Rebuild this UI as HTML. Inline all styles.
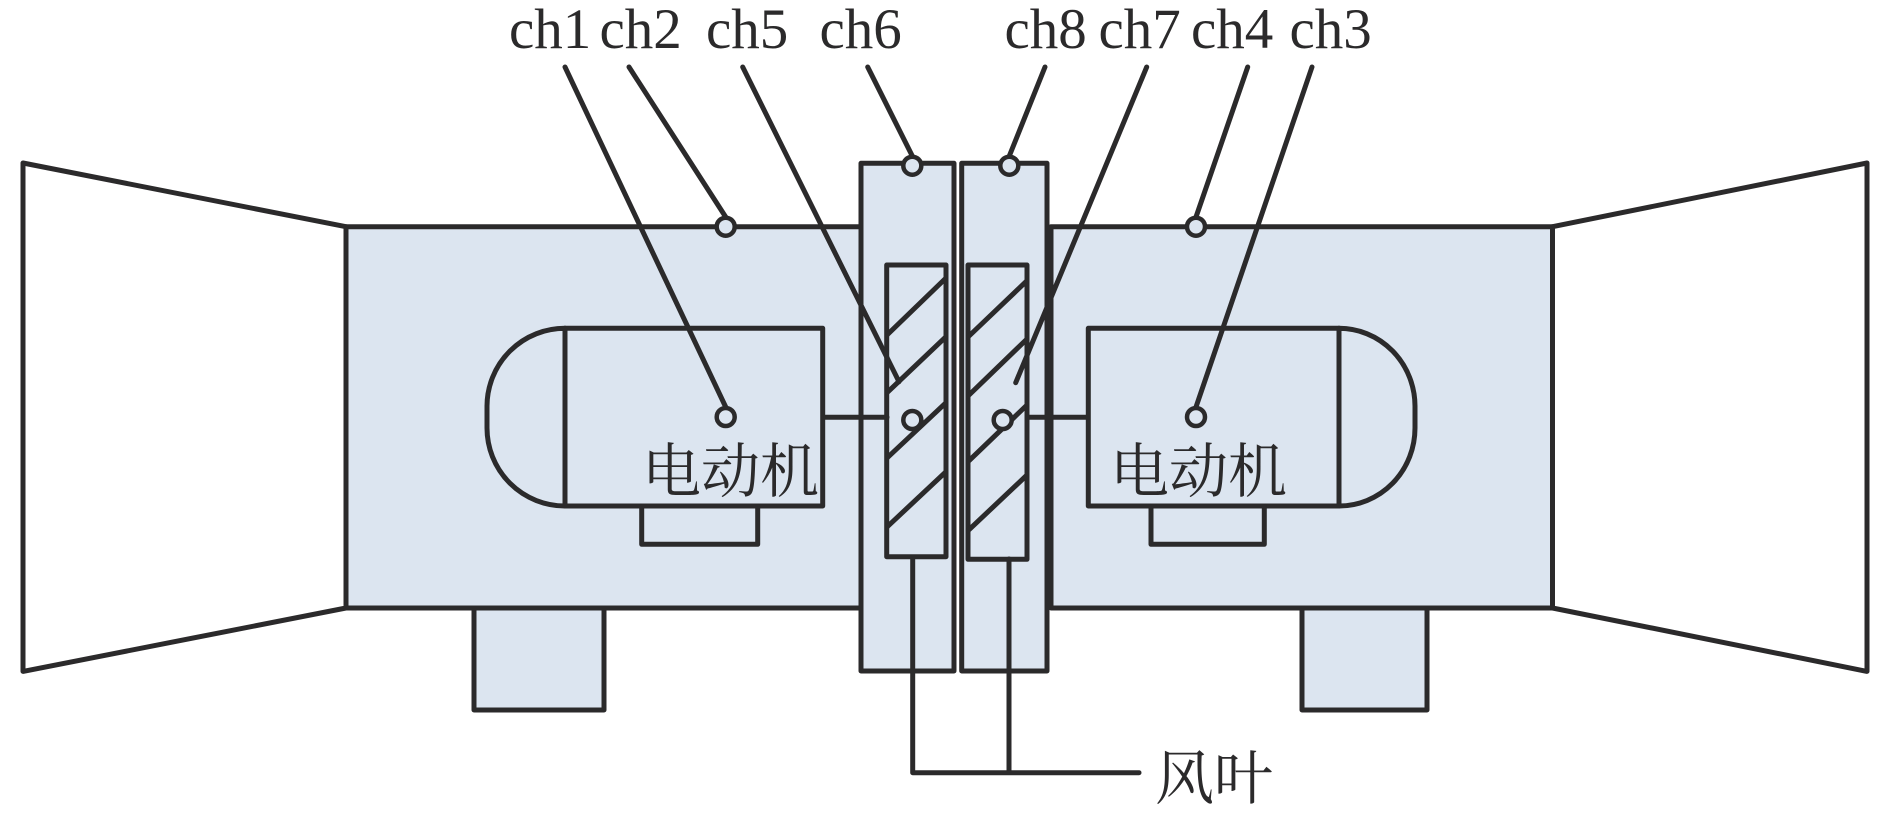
<!DOCTYPE html>
<html lang="zh"><head><meta charset="utf-8"><title>风机结构示意图</title>
<style>html,body{margin:0;padding:0;background:#fff;width:1890px;height:815px;overflow:hidden}svg{display:block}
.l{font-family:"Liberation Serif",serif;font-size:57px;fill:#2b2a2b}
.z{font-family:"Liberation Serif","Noto Serif CJK SC",serif;font-size:59px;fill:#2b2a2b}</style></head>
<body>
<svg width="1890" height="815" viewBox="0 0 1890 815" xmlns="http://www.w3.org/2000/svg">
<g fill="#dce5f0" stroke="#2b2a2b" stroke-width="5" stroke-linejoin="round" stroke-linecap="round">
<polygon points="346,226.7 23,163 23,671.4 346,608" fill="#fff"/>
<polygon points="1552.5,226.7 1867,163 1867,671.4 1552.5,608" fill="#fff"/>
<rect x="474" y="608" width="130" height="102"/>
<rect x="1302" y="608" width="125" height="102"/>
<path d="M861,226.7H346V608H861Z"/>
<path d="M1051,226.7H1552.5V608H1051Z"/>
<rect x="861" y="163.3" width="93" height="507.7"/>
<rect x="961.7" y="163.3" width="85.3" height="507.7"/>
<path d="M1049,227V608" stroke-width="8" fill="none" stroke-linecap="butt"/>
<rect x="886.7" y="265" width="59.3" height="291.7"/>
<rect x="968" y="265" width="59" height="294.3"/>
<path fill="none" d="M887,335L946,278M887,392.7L946,336.7M887,458L946,402.7M887,527L946,471.7"/>
<path fill="none" d="M968,337L1027,280.7M968,396L1027,339M968,461.7L1027,405M968,530.7L1027,475"/>
<path fill="none" d="M822.7,417.3H887M1027,417.3H1088.3"/>
<path d="M565,328.3A78,78 0 0 0 487,406V428A78,78 0 0 0 565,506Z"/>
<rect x="565" y="328.3" width="257.7" height="177.7"/>
<rect x="641.7" y="506" width="116" height="38.3"/>
<path d="M1339,328.3A76,78 0 0 1 1415,406V428A76,78 0 0 1 1339,506Z"/>
<rect x="1088.3" y="328.3" width="250.7" height="177.7"/>
<rect x="1151" y="506" width="113.3" height="38.3"/>
<path fill="none" d="M912.7,557V772.7H1139M1009,559V772.7"/>
<path fill="none" d="M565,67L725.7,407M629,67L725.7,217M742.7,67L899,381.7M867.7,67L912.3,156M1045,67L1009.3,156M1146.7,67L1015.7,382.7M1247.7,67L1196,217M1312,67L1196,407"/>
<g stroke-width="4.5">
<circle cx="725.7" cy="226.7" r="9"/>
<circle cx="912.3" cy="165.7" r="9"/>
<circle cx="1009.3" cy="165.7" r="9"/>
<circle cx="1196" cy="226.7" r="9"/>
<circle cx="725.7" cy="417" r="9"/>
<circle cx="1196" cy="417" r="9"/>
<circle cx="912.3" cy="420" r="9"/>
<circle cx="1002.7" cy="420" r="9"/>
</g>
</g>
<text class="l" x="509" y="48">ch1</text>
<text class="l" x="599.5" y="48">ch2</text>
<text class="l" x="706" y="48">ch5</text>
<text class="l" x="819.5" y="48">ch6</text>
<text class="l" x="1004.5" y="48">ch8</text>
<text class="l" x="1098.5" y="48">ch7</text>
<text class="l" x="1191" y="48">ch4</text>
<text class="l" x="1289.5" y="48">ch3</text>
<text class="z" x="642" y="492">电动机</text>
<text class="z" x="1110" y="492">电动机</text>
<text class="z" x="1155" y="799">风叶</text>
</svg>
</body></html>
